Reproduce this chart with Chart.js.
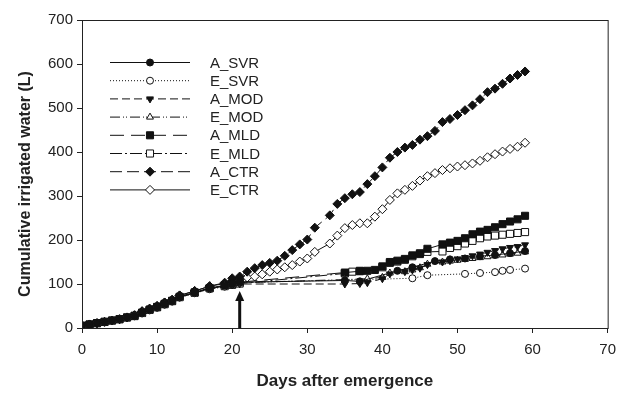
<!DOCTYPE html>
<html>
<head>
<meta charset="utf-8">
<script src="https://cdn.jsdelivr.net/npm/chart.js@4/dist/chart.umd.min.js"></script>
<style>
  html, body { margin: 0; padding: 0; background: #fff; }
  #wrap { width: 624px; height: 393px; }
</style>
</head>
<body>
<div id="wrap"><canvas id="irrigation-chart" width="624" height="393"></canvas></div>
<script>
// days after emergence and cumulative irrigated water (L)
let earlyDays = [0, 1, 2, 3, 4, 5, 6, 7, 8, 9, 10, 11, 12, 13, 15, 17, 19, 20, 21];

let aSvrDays = earlyDays.concat([35, 37, 42, 44, 47, 49, 51, 53, 55, 57, 59]);
let aSvrVals = [5, 8, 11, 14, 17, 20, 24, 27, 34, 41, 47, 54, 61, 70, 80, 90, 96, 100, 104,
                108, 106, 130, 138, 152, 156, 158, 163, 166, 170, 175];

let eSvrDays = earlyDays.concat([44, 46, 51, 53, 55, 56, 57, 59]);
let eSvrVals = [5, 8, 11, 14, 17, 20, 24, 27, 33, 40, 46, 53, 60, 69, 79, 88, 94, 99, 103,
                113, 120, 123, 125, 127, 130, 132, 135];

let aModDays = earlyDays.concat([35, 37, 38, 40, 41, 43, 44, 45, 46, 48, 49, 50, 51, 52, 53, 54, 55, 56, 57, 58, 59]);
let aModVals = [5, 8, 11, 14, 17, 20, 24, 27, 34, 41, 47, 54, 61, 70, 80, 89, 95, 98, 100,
                100, 101, 103, 112, 123, 128, 132, 136, 144, 150, 153, 157, 160, 164, 168, 172, 176, 180, 183, 185, 189];

let eModDays = earlyDays.concat([35, 38, 40, 41, 43, 44, 45, 46, 48, 49, 50, 51, 52, 53, 54, 55, 56, 57, 58, 59]);
let eModVals = [5, 8, 11, 14, 17, 20, 24, 28, 35, 42, 48, 55, 62, 71, 81, 91, 97, 100, 103,
                110, 112, 115, 125, 128, 132, 137, 145, 150, 152, 154, 156, 158, 160, 162, 164, 166, 168, 170, 173];

let aMldDays = earlyDays.concat([35, 37, 38, 39, 40, 41, 42, 43, 44, 45, 46, 48, 49, 50, 51, 52, 53, 54, 55, 56, 57, 58, 59]);
let aMldVals = [5, 8, 11, 14, 17, 20, 24, 28, 35, 42, 48, 55, 62, 71, 81, 91, 97, 100, 104,
                126, 129, 130, 132, 140, 150, 153, 157, 165, 168, 180, 190, 194, 198, 204, 213, 219, 223, 229, 236, 242, 247, 255];

let eMldDays = earlyDays.concat([35, 36, 37, 40, 41, 42, 43, 44, 45, 46, 48, 49, 50, 51, 52, 53, 54, 55, 56, 57, 58, 59]);
let eMldVals = [5, 8, 11, 14, 17, 20, 24, 27, 34, 41, 47, 54, 61, 70, 80, 90, 95, 98, 101,
                124, 128, 130, 138, 148, 151, 155, 163, 170, 173, 174, 182, 186, 192, 198, 204, 208, 210, 212, 214, 216, 218];

let aCtrDays = [0, 1, 2, 3, 4, 5, 6, 7, 8, 9, 10, 11, 12, 13, 15, 17, 19, 20, 21, 22, 23, 24, 25, 26, 27, 28, 29, 30, 31,
                33, 34, 35, 36, 37, 38, 39, 40, 41, 42, 43, 44, 45, 46, 47, 48, 49, 50, 51, 52, 53, 54, 55, 56, 57, 58, 59];
let aCtrVals = [6, 8, 11, 14, 17, 20, 24, 29, 38, 44, 50, 58, 64, 74, 84, 95, 103, 113, 117, 128, 136, 143, 148, 153, 164, 177, 190, 201, 228,
                256, 282, 295, 304, 309, 327, 345, 365, 387, 400, 410, 416, 428, 436, 448, 468, 475, 484, 495, 506, 520, 536, 544, 555, 567, 575, 583];

let eCtrDays = aCtrDays;
let eCtrVals = [6, 8, 11, 14, 17, 20, 24, 29, 38, 44, 50, 58, 64, 74, 84, 95, 101, 107, 111, 115, 117, 122, 128, 133, 138, 143, 151, 158, 173,
                192, 210, 227, 234, 238, 238, 253, 270, 291, 306, 314, 323, 335, 345, 352, 359, 363, 367, 370, 374, 380, 388, 395, 401, 407, 412, 421];

let xTicks = [0, 10, 20, 30, 40, 50, 60, 70];
let yTicks = [0, 100, 200, 300, 400, 500, 600, 700];
let arrowDay = 21;
let yTitle = 'Cumulative irrigated water (L)';

function points(days, vals) {
    return days.map((d, i) => ({ x: d, y: vals[i] }));
}

function series(label, days, vals, dash, style, filled, radius, rotation) {
    return {
        label: label,
        data: points(days, vals),
        showLine: true,
        borderColor: '#111',
        borderWidth: 1,
        borderDash: dash,
        pointStyle: style,
        pointRadius: radius,
        pointRotation: rotation || 0,
        pointBorderWidth: 1,
        pointBorderColor: '#111',
        pointBackgroundColor: filled ? '#111' : '#fff',
        backgroundColor: filled ? '#111' : '#fff',
    };
}

let datasets = [
    series('A_SVR', aSvrDays, aSvrVals, [], 'circle', true, 3.5),
    series('E_SVR', eSvrDays, eSvrVals, [1, 2], 'circle', false, 3.5),
    series('A_MOD', aModDays, aModVals, [8, 4], 'triangle', true, 4, 180),
    series('E_MOD', eModDays, eModVals, [10, 3, 1, 2, 1, 3], 'triangle', false, 4),
    series('A_MLD', aMldDays, aMldVals, [14, 7], 'rect', true, 5),
    series('E_MLD', eMldDays, eMldVals, [12, 3, 2, 3], 'rect', false, 5),
    series('A_CTR', aCtrDays, aCtrVals, [12, 5], 'rectRot', true, 4.5),
    series('E_CTR', eCtrDays, eCtrVals, [], 'rectRot', false, 4.5),
];

// frame, y title, arrow and line+marker legend
let extras = {
    id: 'extras',
    afterDraw(chart) {
        let ctx = chart.ctx;
        let area = chart.chartArea;
        ctx.save();
        ctx.strokeStyle = '#222';
        ctx.lineWidth = 1;
        ctx.strokeRect(area.left + 0.5, area.top + 0.5, area.right - area.left, area.bottom - area.top);

        // y axis title, sits a bit below the axis centre like the original
        ctx.save();
        ctx.translate(26, 184);
        ctx.rotate(-Math.PI / 2);
        ctx.font = 'bold 16px "Liberation Sans", Arial, sans-serif';
        ctx.fillStyle = '#222';
        ctx.textAlign = 'center';
        ctx.textBaseline = 'middle';
        ctx.fillText(yTitle, 0, 0);
        ctx.restore();

        // arrow at day 21
        let ax = chart.scales.x.getPixelForValue(arrowDay);
        let tip = chart.scales.y.getPixelForValue(84);
        ctx.strokeStyle = '#111';
        ctx.fillStyle = '#111';
        ctx.lineWidth = 3;
        ctx.beginPath();
        ctx.moveTo(ax, area.bottom);
        ctx.lineTo(ax, tip + 6);
        ctx.stroke();
        ctx.beginPath();
        ctx.moveTo(ax, tip);
        ctx.lineTo(ax - 4.5, tip + 10);
        ctx.lineTo(ax + 4.5, tip + 10);
        ctx.closePath();
        ctx.fill();

        // legend
        ctx.font = '15px "Liberation Sans", Arial, sans-serif';
        ctx.textBaseline = 'middle';
        chart.data.datasets.forEach((ds, i) => {
            let y = 62.5 + i * 18.2;
            ctx.strokeStyle = '#111';
            ctx.lineWidth = 1;
            ctx.setLineDash(ds.borderDash);
            ctx.beginPath();
            ctx.moveTo(110, y);
            ctx.lineTo(190, y);
            ctx.stroke();
            ctx.setLineDash([]);
            ctx.fillStyle = ds.pointBackgroundColor;
            ctx.strokeStyle = '#111';
            Chart.helpers.drawPoint(ctx, {
                pointStyle: ds.pointStyle,
                rotation: ds.pointRotation,
                radius: ds.pointRadius,
                borderWidth: 1,
            }, 150, y);
            ctx.fillStyle = '#222';
            ctx.fillText(ds.label, 210, y + 1);
        });
        ctx.restore();
    }
};

let tickFont = { family: '"Liberation Sans", Arial, sans-serif', size: 15 };
let xTitleFont = { family: '"Liberation Sans", Arial, sans-serif', size: 17, weight: 'bold' };

let chart = new Chart(document.getElementById('irrigation-chart').getContext('2d'), {
    type: 'scatter',
    data: { datasets: datasets },
    plugins: [extras],
    options: {
        responsive: false,
        animation: false,
        layout: {
            padding: { top: 20, right: 11, left: 0, bottom: 0 },
        },
        plugins: {
            legend: { display: false },
            tooltip: { enabled: false },
        },
        scales: {
            x: {
                type: 'linear',
                min: 0,
                max: 70,
                afterBuildTicks: (axis) => { axis.ticks = xTicks.map(v => ({ value: v })); },
                afterFit: (axis) => { axis.height = 65; },
                grid: { drawOnChartArea: false, drawTicks: true, tickLength: 5, tickColor: '#222' },
                border: { display: false },
                ticks: { color: '#222', font: tickFont, padding: 8, maxRotation: 0 },
                title: { display: true, text: 'Days after emergence', color: '#222', font: xTitleFont, padding: { top: 0, bottom: 1 } },
            },
            y: {
                type: 'linear',
                min: 0,
                max: 700,
                afterBuildTicks: (axis) => { axis.ticks = yTicks.map(v => ({ value: v })); },
                afterFit: (axis) => { axis.width = 82; },
                grid: { drawOnChartArea: false, drawTicks: true, tickLength: 5, tickColor: '#222' },
                border: { display: false },
                ticks: { color: '#222', font: tickFont, padding: 4 },
            },
        },
    },
});
</script>
</body>
</html>
